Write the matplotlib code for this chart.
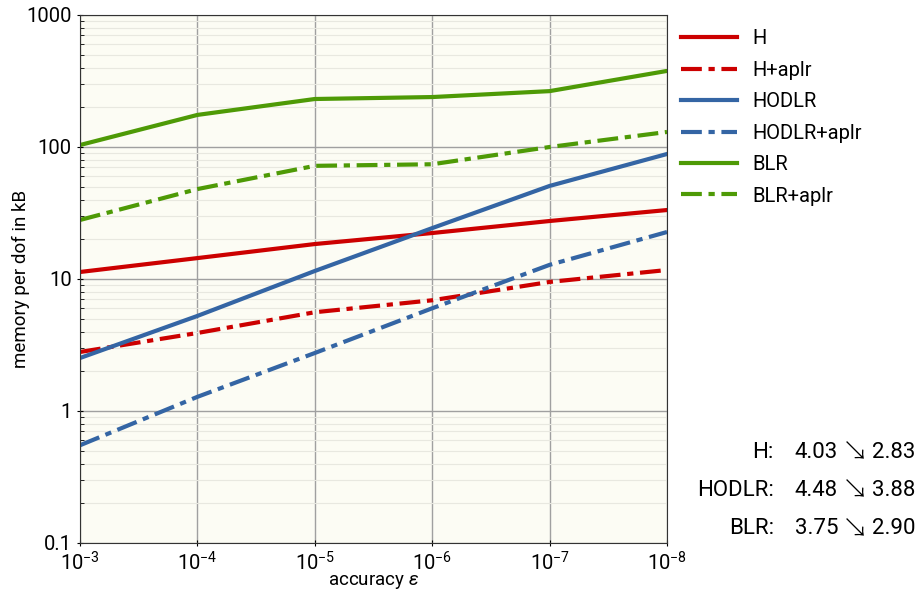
import numpy as np
import matplotlib
matplotlib.use('Agg')
import matplotlib.pyplot as plt

plt.rcParams['font.family'] = ['Roboto', 'DejaVu Sans']
plt.rcParams['mathtext.fontset'] = 'custom'
plt.rcParams['mathtext.rm'] = 'Roboto'
plt.rcParams['mathtext.it'] = 'Roboto:italic'

# accuracy levels and memory per dof (kB) for each format
eps = [1e-3, 1e-4, 1e-5, 1e-6, 1e-7, 1e-8]
h_mem = [11.3, 14.4, 18.4, 22.3, 27.5, 33.3]
h_aplr = [2.80, 3.90, 5.6, 6.9, 9.5, 11.7]
hodlr_mem = [2.52, 5.25, 11.5, 24.3, 50.7, 88.5]
hodlr_aplr = [0.55, 1.28, 2.75, 6.0, 12.8, 22.7]
blr_mem = [103.5, 175, 231, 239, 265, 377]
blr_aplr = [28, 48, 72, 74, 100, 130]

# rate summaries shown at the bottom right
rate_names = ['H', 'HODLR', 'BLR']
rate_before = ['4.03', '4.48', '3.75']
rate_after = ['2.83', '3.88', '2.90']

red, blue, green = '#cc0000', '#3465a4', '#4e9a06'
dashdot = (5, 1.6, 1.5, 1.6)

fig = plt.figure(figsize=(9.17, 5.92), dpi=100)
ax = fig.add_axes([80 / 917, 49 / 592, 587 / 917, 528 / 592])
ax.set_facecolor('#fcfcf4')

series = [
    (h_mem, red, False, 'H'),
    (h_aplr, red, True, 'H+aplr'),
    (hodlr_mem, blue, False, 'HODLR'),
    (hodlr_aplr, blue, True, 'HODLR+aplr'),
    (blr_mem, green, False, 'BLR'),
    (blr_aplr, green, True, 'BLR+aplr'),
]
for vals, col, dashed, lab in series:
    line, = ax.plot(eps, vals, color=col, lw=3, label=lab)
    if dashed:
        line.set_dashes(dashdot)

ax.set_xscale('log')
ax.set_yscale('log')
ax.set_xlim(1e-3, 1e-8)
ax.set_ylim(0.1, 1000)
ax.set_yticks([0.1, 1, 10, 100, 1000])
ax.set_yticklabels(['0.1', '1', '10', '100', '1000'])
ax.set_xticks(eps)
ax.set_xticklabels([r'$10^{%d}$' % int(np.log10(e)) for e in eps])
ax.xaxis.set_minor_locator(matplotlib.ticker.NullLocator())
ax.tick_params(axis='both', which='major', labelsize=14.5, length=5, direction='inout')
ax.tick_params(axis='y', which='minor', length=3, direction='in')

ax.grid(True, which='major', color='#a0a0a0', lw=1)
ax.grid(True, which='minor', axis='y', color='#e8e8e0', lw=0.8)
ax.set_axisbelow(True)
for sp in ax.spines.values():
    sp.set_color('#333333')

ax.set_xlabel(r'accuracy $\varepsilon$', fontsize=13.5, labelpad=-1)
ax.set_ylabel('memory per dof in kB', fontsize=13.5, labelpad=-3)

ax.legend(loc='upper left', bbox_to_anchor=(1.0, 1.0), frameon=False,
          fontsize=14.5, handlelength=2.8, handletextpad=0.75,
          labelspacing=0.62, borderaxespad=0.3)

# compression rate annotations
for i, name in enumerate(rate_names):
    y = 1 - (452 + i * 38.5) / 592
    fig.text(774 / 917, y, name + ':', ha='right', va='center', fontsize=16)
    fig.text(838 / 917, y, rate_before[i], ha='right', va='center', fontsize=16)
    fig.text(855 / 917, y, '\u2198', ha='center', va='center', fontsize=19,
             family=['Noto Sans CJK JP', 'DejaVu Sans'], fontweight='light')
    fig.text(872 / 917, y, rate_after[i], ha='left', va='center', fontsize=16)

fig.savefig('out.png', dpi=100)
